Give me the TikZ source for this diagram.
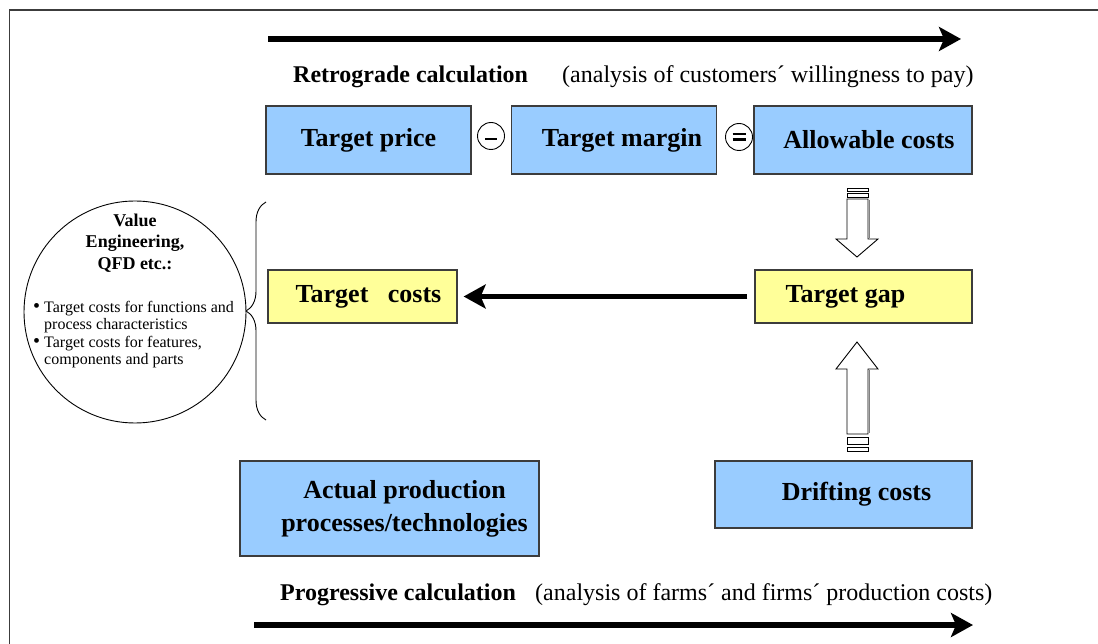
\documentclass[tikz,border=0pt]{standalone}
\usepackage{fontspec}
\setmainfont{Liberation Serif}
\usetikzlibrary{arrows.meta,decorations.pathreplacing}
\definecolor{boxblue}{HTML}{99CCFF}
\definecolor{boxyellow}{HTML}{FFFF99}
\definecolor{edgegray}{HTML}{3C3C3C}
\newcommand{\vebullet}{\makebox[11pt][l]{\fontsize{20}{17.5}\selectfont•}}
\tikzset{
  costbox/.style={draw=edgegray, line width=1.3pt, fill=boxblue, inner sep=0pt,
    font=\bfseries\fontsize{26}{33}\selectfont, align=center},
  gapbox/.style={costbox, fill=boxyellow},
  flow/.style={line width=5.5pt, -{Stealth[length=22pt,width=24pt,inset=5pt]}},
  blockarrow/.style={draw=black, fill=white, line width=0.9pt},
  calclabel/.style={anchor=base west, inner sep=0pt, font=\fontsize{24}{28}\selectfont},
}
\begin{document}
\begin{tikzpicture}[x=1pt,y=-1pt]
\useasboundingbox (0,0) rectangle (1098,644);
% frame
\draw[edgegray, line width=1.2pt] (9.5,700) -- (9.5,10) -- (1200,10);

% retrograde side
\coordinate (retro start) at (268,39);
\coordinate (retro end) at (961,39);
\draw[flow] (retro start) -- (retro end);
\node[calclabel] (retro) at (293,83) {\textbf{Retrograde calculation}};
\node[calclabel] (retro note) at (562,83) {(analysis of customers´ willingness to pay)};

\node[costbox, minimum width=205, minimum height=68] (price) at (368.5,140) {Target price};
\node[costbox, minimum width=205, minimum height=68] (margin) at (614,140) {\hspace*{16pt}Target margin};
\node[costbox, minimum width=218, minimum height=68] (allow) at (863,140) {\hspace*{12pt}Allowable costs};

% minus and equals signs
\node[draw, circle, minimum size=27, inner sep=0pt, line width=0.9pt] (minus) at (491,136) {};
\draw[line width=2pt] (485,139.5) -- (497,139.5);
\node[draw, circle, minimum size=27, inner sep=0pt, line width=0.9pt] (equals) at (739,137) {};
\draw[line width=2.6pt] (732.5,134) -- (745.5,134);
\draw[line width=2.6pt] (732.5,139.5) -- (745.5,139.5);

% target costing
\node[gapbox, minimum width=189, minimum height=53] (tcosts) at (362.5,296.5) {\hspace*{12pt}Target~~~costs};
\node[gapbox, minimum width=217, minimum height=53] (gap) at (863.5,296.5) {Target gap\hspace*{36pt}};
\draw[flow] ([xshift=-7]gap.west) -- ([xshift=6]tcosts.east);

% striped block arrows
\draw[blockarrow] (847,188) rectangle (868,191);
\draw[blockarrow] (847,193) rectangle (868,197);
\draw[blockarrow] (847,199) -- (868,199) -- (868,239) -- (878,239) -- (857,257)
  -- (836,239) -- (847,239) -- cycle;
\draw[gray, line width=1.2pt] (869.5,200) -- (869.5,238);
\draw[blockarrow] (847,447) rectangle (868,451);
\draw[blockarrow] (847,437) rectangle (868,444);
\draw[blockarrow] (847,434) -- (868,434) -- (868,369) -- (878,369) -- (857,342)
  -- (836,369) -- (847,369) -- cycle;
\draw[gray, line width=1.2pt] (869.5,370) -- (869.5,433);

% value engineering
\node[draw, circle, minimum size=222, line width=0.9pt] (ve) at (135,312) {};
\node[font=\bfseries\fontsize{18}{21.5}\selectfont, align=center] (ve title) at (135,243)
  {Value\\Engineering,\\QFD etc.:};
\node[anchor=north west, inner sep=0pt, align=left, font=\fontsize{16}{17.5}\selectfont] (ve list) at (33,301)
  {\vebullet Target costs for functions and\\
   \hspace*{11pt}process characteristics\\
   \vebullet Target costs for features,\\
   \hspace*{11pt}components and parts};
\draw[line width=0.9pt, decorate, decoration={brace, amplitude=20pt}] (266,420) -- (266,202);

% progressive side
\node[costbox, minimum width=299, minimum height=95] (actual) at (389.5,508.5)
  {\hspace*{30pt}Actual production\\\hspace*{30pt}processes/technologies};
\node[costbox, minimum width=257, minimum height=67] (drift) at (843.5,494.5) {\hspace*{26pt}Drifting costs};

\node[calclabel] (progr) at (280,600) {\textbf{Progressive calculation}};
\node[calclabel] (progr note) at (535,600) {(analysis of farms´ and firms´ production costs)};
\coordinate (progr start) at (254,625);
\coordinate (progr end) at (973,625);
\draw[flow] (progr start) -- (progr end);
\end{tikzpicture}
\end{document}
